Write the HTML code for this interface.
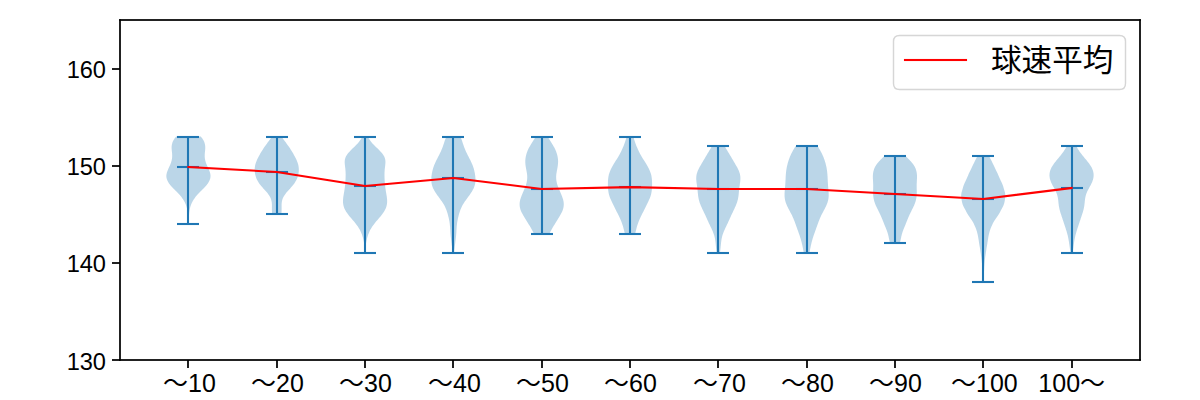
<!DOCTYPE html>
<html lang="ja">
<head>
<meta charset="utf-8">
<title>球速平均</title>
<style>
html,body{margin:0;padding:0;background:#ffffff;font-family:"Liberation Sans",sans-serif;}
body{width:1200px;height:400px;overflow:hidden;}
svg{display:block;}
</style>
</head>
<body>
<svg width="1200" height="400" viewBox="0 0 1200 400" role="img" aria-label="球速平均 バイオリンプロット" style="display:block">
<title>球速平均</title>
<desc>投球数区分（〜10 から 100〜）ごとの球速分布のバイオリンプロットと球速平均の折れ線</desc>
<rect x="0" y="0" width="1200" height="400" fill="#ffffff"/>
<g fill="#1f77b4" fill-opacity="0.3">
<path d="M188.75 224 L188.14 224 L188.12 223.12 L188.1 222.23 L188.09 221.35 L188.07 220.47 L188.05 219.58 L188.02 218.7 L187.99 217.82 L187.96 216.94 L187.91 216.05 L187.86 215.17 L187.8 214.29 L187.72 213.4 L187.63 212.52 L187.52 211.64 L187.39 210.75 L187.24 209.87 L187.07 208.99 L186.88 208.1 L186.65 207.22 L186.4 206.34 L186.11 205.45 L185.79 204.57 L185.43 203.69 L185.04 202.81 L184.6 201.92 L184.12 201.04 L183.6 200.16 L183.04 199.27 L182.44 198.39 L181.79 197.51 L181.1 196.62 L180.37 195.74 L179.6 194.86 L178.8 193.97 L177.97 193.09 L177.11 192.21 L176.24 191.32 L175.35 190.44 L174.47 189.56 L173.59 188.68 L172.74 187.79 L171.91 186.91 L171.11 186.03 L170.36 185.14 L169.67 184.26 L169.02 183.38 L168.44 182.49 L167.93 181.61 L167.48 180.73 L167.1 179.84 L166.8 178.96 L166.58 178.08 L166.43 177.19 L166.36 176.31 L166.37 175.43 L166.46 174.55 L166.61 173.66 L166.83 172.78 L167.11 171.9 L167.43 171.01 L167.78 170.13 L168.16 169.25 L168.56 168.36 L168.97 167.48 L169.37 166.6 L169.77 165.71 L170.15 164.83 L170.51 163.95 L170.84 163.06 L171.14 162.18 L171.41 161.3 L171.64 160.42 L171.82 159.53 L171.97 158.65 L172.08 157.77 L172.15 156.88 L172.17 156 L172.17 155.12 L172.13 154.23 L172.07 153.35 L171.99 152.47 L171.9 151.58 L171.81 150.7 L171.73 149.82 L171.66 148.94 L171.62 148.05 L171.62 147.17 L171.66 146.29 L171.75 145.4 L171.9 144.52 L172.11 143.64 L172.37 142.75 L172.71 141.87 L173.11 140.99 L173.57 140.1 L174.11 139.22 L174.71 138.34 L175.37 137.45 L176.09 136.57 L200.79 136.57 L200.79 136.57 L201.51 137.45 L202.18 138.34 L202.78 139.22 L203.31 140.1 L203.78 140.99 L204.18 141.87 L204.51 142.75 L204.78 143.64 L204.98 144.52 L205.13 145.4 L205.22 146.29 L205.26 147.17 L205.26 148.05 L205.22 148.94 L205.16 149.82 L205.08 150.7 L204.99 151.58 L204.9 152.47 L204.82 153.35 L204.75 154.23 L204.72 155.12 L204.71 156 L204.74 156.88 L204.8 157.77 L204.91 158.65 L205.06 159.53 L205.25 160.42 L205.48 161.3 L205.74 162.18 L206.04 163.06 L206.38 163.95 L206.73 164.83 L207.11 165.71 L207.51 166.6 L207.91 167.48 L208.32 168.36 L208.72 169.25 L209.1 170.13 L209.46 171.01 L209.78 171.9 L210.05 172.78 L210.27 173.66 L210.42 174.55 L210.51 175.43 L210.52 176.31 L210.45 177.19 L210.31 178.08 L210.08 178.96 L209.78 179.84 L209.4 180.73 L208.96 181.61 L208.44 182.49 L207.86 183.38 L207.22 184.26 L206.52 185.14 L205.77 186.03 L204.98 186.91 L204.15 187.79 L203.29 188.68 L202.42 189.56 L201.53 190.44 L200.65 191.32 L199.77 192.21 L198.91 193.09 L198.08 193.97 L197.28 194.86 L196.51 195.74 L195.78 196.62 L195.09 197.51 L194.45 198.39 L193.84 199.27 L193.28 200.16 L192.76 201.04 L192.28 201.92 L191.85 202.81 L191.45 203.69 L191.09 204.57 L190.77 205.45 L190.48 206.34 L190.23 207.22 L190.01 208.1 L189.81 208.99 L189.64 209.87 L189.49 210.75 L189.36 211.64 L189.26 212.52 L189.16 213.4 L189.09 214.29 L189.02 215.17 L188.97 216.05 L188.93 216.94 L188.89 217.82 L188.86 218.7 L188.84 219.58 L188.81 220.47 L188.8 221.35 L188.78 222.23 L188.76 223.12 L188.75 224Z"/>
<path d="M281.27 214.29 L272.24 214.29 L272.13 213.5 L272.05 212.72 L271.98 211.93 L271.94 211.15 L271.91 210.36 L271.89 209.58 L271.89 208.79 L271.89 208.01 L271.9 207.22 L271.91 206.44 L271.91 205.65 L271.9 204.87 L271.87 204.08 L271.83 203.3 L271.75 202.51 L271.64 201.73 L271.49 200.94 L271.3 200.16 L271.07 199.37 L270.79 198.59 L270.46 197.8 L270.08 197.02 L269.64 196.23 L269.16 195.45 L268.63 194.66 L268.06 193.88 L267.45 193.09 L266.8 192.31 L266.13 191.52 L265.44 190.74 L264.73 189.95 L264.02 189.17 L263.31 188.38 L262.6 187.6 L261.91 186.81 L261.24 186.03 L260.6 185.24 L259.98 184.46 L259.4 183.67 L258.85 182.89 L258.34 182.1 L257.87 181.32 L257.43 180.53 L257.03 179.75 L256.67 178.96 L256.34 178.18 L256.04 177.39 L255.77 176.61 L255.54 175.82 L255.33 175.04 L255.16 174.25 L255.01 173.47 L254.88 172.68 L254.79 171.9 L254.72 171.11 L254.68 170.33 L254.68 169.54 L254.7 168.76 L254.75 167.97 L254.83 167.19 L254.95 166.4 L255.09 165.62 L255.27 164.83 L255.48 164.05 L255.71 163.26 L255.98 162.48 L256.27 161.69 L256.58 160.91 L256.92 160.12 L257.27 159.34 L257.64 158.55 L258.03 157.77 L258.43 156.98 L258.84 156.2 L259.27 155.41 L259.7 154.63 L260.14 153.84 L260.6 153.06 L261.06 152.27 L261.53 151.49 L262.02 150.7 L262.51 149.92 L263.02 149.13 L263.53 148.35 L264.06 147.56 L264.6 146.78 L265.16 145.99 L265.72 145.21 L266.29 144.42 L266.86 143.64 L267.44 142.85 L268.03 142.07 L268.6 141.28 L269.18 140.5 L269.74 139.71 L270.3 138.93 L270.83 138.14 L271.35 137.36 L271.85 136.57 L281.65 136.57 L281.65 136.57 L282.15 137.36 L282.67 138.14 L283.21 138.93 L283.76 139.71 L284.33 140.5 L284.9 141.28 L285.48 142.07 L286.06 142.85 L286.64 143.64 L287.22 144.42 L287.79 145.21 L288.35 145.99 L288.9 146.78 L289.44 147.56 L289.97 148.35 L290.49 149.13 L291 149.92 L291.49 150.7 L291.97 151.49 L292.45 152.27 L292.91 153.06 L293.36 153.84 L293.8 154.63 L294.24 155.41 L294.66 156.2 L295.07 156.98 L295.48 157.77 L295.86 158.55 L296.23 159.34 L296.59 160.12 L296.92 160.91 L297.24 161.69 L297.53 162.48 L297.79 163.26 L298.03 164.05 L298.24 164.83 L298.41 165.62 L298.56 166.4 L298.68 167.19 L298.76 167.97 L298.81 168.76 L298.83 169.54 L298.82 170.33 L298.78 171.11 L298.72 171.9 L298.62 172.68 L298.5 173.47 L298.35 174.25 L298.17 175.04 L297.97 175.82 L297.73 176.61 L297.47 177.39 L297.17 178.18 L296.84 178.96 L296.48 179.75 L296.08 180.53 L295.64 181.32 L295.17 182.1 L294.66 182.89 L294.11 183.67 L293.52 184.46 L292.91 185.24 L292.26 186.03 L291.59 186.81 L290.9 187.6 L290.2 188.38 L289.49 189.17 L288.77 189.95 L288.07 190.74 L287.38 191.52 L286.7 192.31 L286.06 193.09 L285.45 193.88 L284.88 194.66 L284.35 195.45 L283.86 196.23 L283.43 197.02 L283.05 197.8 L282.72 198.59 L282.44 199.37 L282.2 200.16 L282.01 200.94 L281.87 201.73 L281.76 202.51 L281.68 203.3 L281.63 204.08 L281.61 204.87 L281.6 205.65 L281.6 206.44 L281.6 207.22 L281.61 208.01 L281.62 208.79 L281.61 209.58 L281.6 210.36 L281.57 211.15 L281.52 211.93 L281.46 212.72 L281.37 213.5 L281.27 214.29Z"/>
<path d="M365.25 253.14 L364.88 253.14 L364.84 251.97 L364.78 250.79 L364.72 249.61 L364.64 248.43 L364.54 247.26 L364.43 246.08 L364.29 244.9 L364.14 243.72 L363.96 242.55 L363.75 241.37 L363.52 240.19 L363.25 239.01 L362.95 237.84 L362.62 236.66 L362.25 235.48 L361.84 234.3 L361.38 233.13 L360.87 231.95 L360.31 230.77 L359.7 229.59 L359.03 228.42 L358.3 227.24 L357.51 226.06 L356.67 224.88 L355.77 223.71 L354.83 222.53 L353.86 221.35 L352.86 220.17 L351.85 219 L350.84 217.82 L349.85 216.64 L348.88 215.46 L347.97 214.29 L347.1 213.11 L346.31 211.93 L345.59 210.75 L344.95 209.58 L344.41 208.4 L343.95 207.22 L343.59 206.04 L343.32 204.87 L343.13 203.69 L343.02 202.51 L342.99 201.33 L343.01 200.16 L343.09 198.98 L343.22 197.8 L343.37 196.62 L343.55 195.45 L343.75 194.27 L343.95 193.09 L344.14 191.91 L344.34 190.74 L344.52 189.56 L344.69 188.38 L344.85 187.2 L344.99 186.03 L345.11 184.85 L345.22 183.67 L345.32 182.49 L345.4 181.32 L345.48 180.14 L345.54 178.96 L345.59 177.78 L345.62 176.61 L345.64 175.43 L345.64 174.25 L345.62 173.07 L345.57 171.9 L345.5 170.72 L345.4 169.54 L345.28 168.36 L345.14 167.19 L345 166.01 L344.86 164.83 L344.76 163.65 L344.7 162.48 L344.72 161.3 L344.82 160.12 L345.05 158.94 L345.4 157.77 L345.89 156.59 L346.53 155.41 L347.3 154.23 L348.21 153.06 L349.23 151.88 L350.35 150.7 L351.53 149.52 L352.75 148.35 L353.97 147.17 L355.18 145.99 L356.35 144.81 L357.45 143.64 L358.49 142.46 L359.43 141.28 L360.28 140.1 L361.04 138.93 L361.71 137.75 L362.29 136.57 L367.84 136.57 L367.84 136.57 L368.42 137.75 L369.09 138.93 L369.85 140.1 L370.7 141.28 L371.64 142.46 L372.68 143.64 L373.78 144.81 L374.95 145.99 L376.16 147.17 L377.38 148.35 L378.6 149.52 L379.78 150.7 L380.9 151.88 L381.92 153.06 L382.83 154.23 L383.6 155.41 L384.24 156.59 L384.73 157.77 L385.08 158.94 L385.31 160.12 L385.41 161.3 L385.43 162.48 L385.37 163.65 L385.27 164.83 L385.13 166.01 L384.99 167.19 L384.85 168.36 L384.73 169.54 L384.63 170.72 L384.56 171.9 L384.51 173.07 L384.49 174.25 L384.49 175.43 L384.51 176.61 L384.54 177.78 L384.59 178.96 L384.65 180.14 L384.73 181.32 L384.81 182.49 L384.91 183.67 L385.02 184.85 L385.14 186.03 L385.28 187.2 L385.44 188.38 L385.61 189.56 L385.79 190.74 L385.99 191.91 L386.18 193.09 L386.38 194.27 L386.58 195.45 L386.76 196.62 L386.91 197.8 L387.04 198.98 L387.12 200.16 L387.14 201.33 L387.11 202.51 L387 203.69 L386.81 204.87 L386.54 206.04 L386.17 207.22 L385.72 208.4 L385.18 209.58 L384.54 210.75 L383.82 211.93 L383.03 213.11 L382.16 214.29 L381.25 215.46 L380.28 216.64 L379.29 217.82 L378.28 219 L377.27 220.17 L376.27 221.35 L375.3 222.53 L374.36 223.71 L373.46 224.88 L372.62 226.06 L371.83 227.24 L371.1 228.42 L370.43 229.59 L369.82 230.77 L369.26 231.95 L368.75 233.13 L368.29 234.3 L367.88 235.48 L367.51 236.66 L367.18 237.84 L366.88 239.01 L366.61 240.19 L366.38 241.37 L366.17 242.55 L365.99 243.72 L365.84 244.9 L365.7 246.08 L365.59 247.26 L365.49 248.43 L365.41 249.61 L365.35 250.79 L365.29 251.97 L365.25 253.14Z"/>
<path d="M454.04 253.14 L452.71 253.14 L452.6 251.97 L452.48 250.79 L452.35 249.61 L452.21 248.43 L452.07 247.26 L451.92 246.08 L451.77 244.9 L451.62 243.72 L451.46 242.55 L451.31 241.37 L451.17 240.19 L451.02 239.01 L450.89 237.84 L450.76 236.66 L450.65 235.48 L450.55 234.3 L450.46 233.13 L450.38 231.95 L450.31 230.77 L450.24 229.59 L450.17 228.42 L450.09 227.24 L449.99 226.06 L449.87 224.88 L449.74 223.71 L449.57 222.53 L449.39 221.35 L449.17 220.17 L448.94 219 L448.68 217.82 L448.4 216.64 L448.1 215.46 L447.78 214.29 L447.44 213.11 L447.07 211.93 L446.67 210.75 L446.23 209.58 L445.76 208.4 L445.23 207.22 L444.65 206.04 L444.01 204.87 L443.32 203.69 L442.57 202.51 L441.77 201.33 L440.93 200.16 L440.07 198.98 L439.2 197.8 L438.33 196.62 L437.47 195.45 L436.65 194.27 L435.85 193.09 L435.11 191.91 L434.4 190.74 L433.76 189.56 L433.18 188.38 L432.67 187.2 L432.24 186.03 L431.9 184.85 L431.64 183.67 L431.46 182.49 L431.35 181.32 L431.3 180.14 L431.3 178.96 L431.36 177.78 L431.45 176.61 L431.58 175.43 L431.75 174.25 L431.96 173.07 L432.19 171.9 L432.46 170.72 L432.76 169.54 L433.09 168.36 L433.46 167.19 L433.88 166.01 L434.33 164.83 L434.83 163.65 L435.36 162.48 L435.92 161.3 L436.5 160.12 L437.09 158.94 L437.69 157.77 L438.29 156.59 L438.89 155.41 L439.48 154.23 L440.05 153.06 L440.61 151.88 L441.15 150.7 L441.66 149.52 L442.14 148.35 L442.59 147.17 L443.01 145.99 L443.41 144.81 L443.8 143.64 L444.18 142.46 L444.57 141.28 L444.99 140.1 L445.44 138.93 L445.93 137.75 L446.47 136.57 L460.28 136.57 L460.28 136.57 L460.82 137.75 L461.32 138.93 L461.77 140.1 L462.18 141.28 L462.57 142.46 L462.96 143.64 L463.34 144.81 L463.75 145.99 L464.17 147.17 L464.62 148.35 L465.1 149.52 L465.6 150.7 L466.14 151.88 L466.7 153.06 L467.28 154.23 L467.87 155.41 L468.46 156.59 L469.06 157.77 L469.66 158.94 L470.26 160.12 L470.84 161.3 L471.4 162.48 L471.93 163.65 L472.42 164.83 L472.88 166.01 L473.29 167.19 L473.66 168.36 L474 169.54 L474.3 170.72 L474.56 171.9 L474.8 173.07 L475 174.25 L475.17 175.43 L475.3 176.61 L475.4 177.78 L475.45 178.96 L475.45 180.14 L475.41 181.32 L475.3 182.49 L475.11 183.67 L474.85 184.85 L474.51 186.03 L474.08 187.2 L473.57 188.38 L472.99 189.56 L472.35 190.74 L471.65 191.91 L470.9 193.09 L470.11 194.27 L469.28 195.45 L468.43 196.62 L467.55 197.8 L466.68 198.98 L465.82 200.16 L464.98 201.33 L464.19 202.51 L463.44 203.69 L462.74 204.87 L462.11 206.04 L461.53 207.22 L461 208.4 L460.52 209.58 L460.08 210.75 L459.68 211.93 L459.32 213.11 L458.97 214.29 L458.65 215.46 L458.36 216.64 L458.08 217.82 L457.82 219 L457.58 220.17 L457.37 221.35 L457.18 222.53 L457.02 223.71 L456.88 224.88 L456.76 226.06 L456.67 227.24 L456.58 228.42 L456.51 229.59 L456.44 230.77 L456.37 231.95 L456.29 233.13 L456.2 234.3 L456.1 235.48 L455.99 236.66 L455.86 237.84 L455.73 239.01 L455.59 240.19 L455.44 241.37 L455.29 242.55 L455.14 243.72 L454.98 244.9 L454.83 246.08 L454.69 247.26 L454.54 248.43 L454.4 249.61 L454.27 250.79 L454.15 251.97 L454.04 253.14Z"/>
<path d="M549.39 233.71 L533.99 233.71 L533.48 232.73 L532.96 231.75 L532.44 230.77 L531.9 229.79 L531.36 228.81 L530.81 227.83 L530.24 226.85 L529.67 225.86 L529.09 224.88 L528.49 223.9 L527.89 222.92 L527.28 221.94 L526.67 220.96 L526.05 219.98 L525.43 219 L524.82 218.01 L524.22 217.03 L523.63 216.05 L523.06 215.07 L522.51 214.09 L522 213.11 L521.52 212.13 L521.09 211.15 L520.7 210.16 L520.37 209.18 L520.09 208.2 L519.88 207.22 L519.73 206.24 L519.64 205.26 L519.61 204.28 L519.64 203.3 L519.74 202.31 L519.89 201.33 L520.09 200.35 L520.34 199.37 L520.63 198.39 L520.95 197.41 L521.31 196.43 L521.69 195.45 L522.09 194.46 L522.51 193.48 L522.93 192.5 L523.36 191.52 L523.78 190.54 L524.2 189.56 L524.6 188.58 L524.99 187.6 L525.36 186.61 L525.71 185.63 L526.03 184.65 L526.31 183.67 L526.57 182.69 L526.78 181.71 L526.95 180.73 L527.08 179.75 L527.17 178.76 L527.22 177.78 L527.22 176.8 L527.18 175.82 L527.1 174.84 L526.99 173.86 L526.86 172.88 L526.7 171.9 L526.52 170.91 L526.34 169.93 L526.15 168.95 L525.97 167.97 L525.8 166.99 L525.64 166.01 L525.51 165.03 L525.41 164.05 L525.34 163.06 L525.3 162.08 L525.3 161.1 L525.33 160.12 L525.41 159.14 L525.52 158.16 L525.67 157.18 L525.86 156.2 L526.09 155.22 L526.36 154.23 L526.66 153.25 L527 152.27 L527.37 151.29 L527.78 150.31 L528.22 149.33 L528.69 148.35 L529.2 147.37 L529.73 146.38 L530.29 145.4 L530.87 144.42 L531.47 143.44 L532.09 142.46 L532.72 141.48 L533.35 140.5 L533.98 139.52 L534.61 138.53 L535.22 137.55 L535.82 136.57 L547.55 136.57 L547.55 136.57 L548.15 137.55 L548.77 138.53 L549.4 139.52 L550.03 140.5 L550.66 141.48 L551.29 142.46 L551.9 143.44 L552.5 144.42 L553.09 145.4 L553.65 146.38 L554.18 147.37 L554.68 148.35 L555.16 149.33 L555.6 150.31 L556.01 151.29 L556.38 152.27 L556.72 153.25 L557.02 154.23 L557.28 155.22 L557.51 156.2 L557.7 157.18 L557.86 158.16 L557.97 159.14 L558.04 160.12 L558.08 161.1 L558.08 162.08 L558.04 163.06 L557.97 164.05 L557.86 165.03 L557.73 166.01 L557.58 166.99 L557.41 167.97 L557.23 168.95 L557.04 169.93 L556.85 170.91 L556.68 171.9 L556.52 172.88 L556.38 173.86 L556.27 174.84 L556.2 175.82 L556.16 176.8 L556.16 177.78 L556.21 178.76 L556.29 179.75 L556.42 180.73 L556.6 181.71 L556.81 182.69 L557.06 183.67 L557.35 184.65 L557.67 185.63 L558.01 186.61 L558.38 187.6 L558.77 188.58 L559.18 189.56 L559.6 190.54 L560.02 191.52 L560.45 192.5 L560.87 193.48 L561.28 194.46 L561.68 195.45 L562.07 196.43 L562.42 197.41 L562.75 198.39 L563.04 199.37 L563.29 200.35 L563.49 201.33 L563.64 202.31 L563.73 203.3 L563.77 204.28 L563.74 205.26 L563.65 206.24 L563.5 207.22 L563.28 208.2 L563.01 209.18 L562.68 210.16 L562.29 211.15 L561.86 212.13 L561.38 213.11 L560.87 214.09 L560.32 215.07 L559.75 216.05 L559.16 217.03 L558.56 218.01 L557.94 219 L557.32 219.98 L556.71 220.96 L556.09 221.94 L555.48 222.92 L554.88 223.9 L554.29 224.88 L553.71 225.86 L553.13 226.85 L552.57 227.83 L552.02 228.81 L551.48 229.79 L550.94 230.77 L550.41 231.75 L549.9 232.73 L549.39 233.71Z"/>
<path d="M635.11 233.71 L624.89 233.71 L624.62 232.73 L624.36 231.75 L624.1 230.77 L623.86 229.79 L623.61 228.81 L623.36 227.83 L623.1 226.85 L622.83 225.86 L622.54 224.88 L622.22 223.9 L621.88 222.92 L621.52 221.94 L621.13 220.96 L620.71 219.98 L620.28 219 L619.83 218.01 L619.36 217.03 L618.89 216.05 L618.4 215.07 L617.92 214.09 L617.43 213.11 L616.94 212.13 L616.45 211.15 L615.96 210.16 L615.47 209.18 L614.98 208.2 L614.49 207.22 L614 206.24 L613.51 205.26 L613.02 204.28 L612.53 203.3 L612.05 202.31 L611.58 201.33 L611.13 200.35 L610.7 199.37 L610.29 198.39 L609.91 197.41 L609.56 196.43 L609.25 195.45 L608.98 194.46 L608.74 193.48 L608.54 192.5 L608.38 191.52 L608.24 190.54 L608.14 189.56 L608.06 188.58 L608 187.6 L607.96 186.61 L607.93 185.63 L607.92 184.65 L607.92 183.67 L607.94 182.69 L607.96 181.71 L608.01 180.73 L608.07 179.75 L608.16 178.76 L608.28 177.78 L608.43 176.8 L608.61 175.82 L608.83 174.84 L609.09 173.86 L609.39 172.88 L609.74 171.9 L610.12 170.91 L610.54 169.93 L611 168.95 L611.5 167.97 L612.02 166.99 L612.57 166.01 L613.14 165.03 L613.73 164.05 L614.34 163.06 L614.95 162.08 L615.56 161.1 L616.18 160.12 L616.79 159.14 L617.39 158.16 L617.99 157.18 L618.57 156.2 L619.13 155.22 L619.68 154.23 L620.21 153.25 L620.72 152.27 L621.21 151.29 L621.68 150.31 L622.14 149.33 L622.57 148.35 L622.99 147.37 L623.39 146.38 L623.77 145.4 L624.14 144.42 L624.5 143.44 L624.85 142.46 L625.19 141.48 L625.51 140.5 L625.83 139.52 L626.14 138.53 L626.44 137.55 L626.73 136.57 L633.27 136.57 L633.27 136.57 L633.56 137.55 L633.86 138.53 L634.17 139.52 L634.49 140.5 L634.81 141.48 L635.15 142.46 L635.5 143.44 L635.86 144.42 L636.23 145.4 L636.61 146.38 L637.01 147.37 L637.43 148.35 L637.86 149.33 L638.32 150.31 L638.79 151.29 L639.28 152.27 L639.79 153.25 L640.32 154.23 L640.87 155.22 L641.43 156.2 L642.01 157.18 L642.61 158.16 L643.21 159.14 L643.82 160.12 L644.44 161.1 L645.05 162.08 L645.66 163.06 L646.27 164.05 L646.86 165.03 L647.43 166.01 L647.98 166.99 L648.5 167.97 L649 168.95 L649.46 169.93 L649.88 170.91 L650.26 171.9 L650.61 172.88 L650.91 173.86 L651.17 174.84 L651.39 175.82 L651.57 176.8 L651.72 177.78 L651.84 178.76 L651.93 179.75 L651.99 180.73 L652.04 181.71 L652.06 182.69 L652.08 183.67 L652.08 184.65 L652.07 185.63 L652.04 186.61 L652 187.6 L651.94 188.58 L651.86 189.56 L651.76 190.54 L651.62 191.52 L651.46 192.5 L651.26 193.48 L651.02 194.46 L650.75 195.45 L650.44 196.43 L650.09 197.41 L649.71 198.39 L649.3 199.37 L648.87 200.35 L648.42 201.33 L647.95 202.31 L647.47 203.3 L646.98 204.28 L646.49 205.26 L646 206.24 L645.51 207.22 L645.02 208.2 L644.53 209.18 L644.04 210.16 L643.55 211.15 L643.06 212.13 L642.57 213.11 L642.08 214.09 L641.6 215.07 L641.11 216.05 L640.64 217.03 L640.17 218.01 L639.72 219 L639.29 219.98 L638.87 220.96 L638.48 221.94 L638.12 222.92 L637.78 223.9 L637.46 224.88 L637.17 225.86 L636.9 226.85 L636.64 227.83 L636.39 228.81 L636.14 229.79 L635.9 230.77 L635.64 231.75 L635.38 232.73 L635.11 233.71Z"/>
<path d="M719.92 253.14 L716.7 253.14 L716.57 252.06 L716.44 250.98 L716.31 249.9 L716.19 248.83 L716.07 247.75 L715.96 246.67 L715.85 245.59 L715.74 244.51 L715.63 243.43 L715.51 242.35 L715.37 241.27 L715.22 240.19 L715.04 239.11 L714.83 238.03 L714.59 236.95 L714.31 235.87 L714 234.79 L713.64 233.71 L713.25 232.63 L712.82 231.56 L712.36 230.48 L711.88 229.4 L711.38 228.32 L710.87 227.24 L710.35 226.16 L709.83 225.08 L709.32 224 L708.81 222.92 L708.3 221.84 L707.81 220.76 L707.32 219.68 L706.83 218.6 L706.35 217.52 L705.86 216.44 L705.37 215.37 L704.87 214.29 L704.37 213.21 L703.86 212.13 L703.34 211.05 L702.83 209.97 L702.31 208.89 L701.81 207.81 L701.32 206.73 L700.85 205.65 L700.4 204.57 L699.99 203.49 L699.61 202.41 L699.28 201.33 L698.98 200.25 L698.72 199.17 L698.49 198.1 L698.31 197.02 L698.15 195.94 L698.01 194.86 L697.9 193.78 L697.79 192.7 L697.69 191.62 L697.59 190.54 L697.48 189.46 L697.36 188.38 L697.22 187.3 L697.08 186.22 L696.93 185.14 L696.77 184.06 L696.62 182.98 L696.48 181.9 L696.36 180.83 L696.27 179.75 L696.23 178.67 L696.25 177.59 L696.32 176.51 L696.45 175.43 L696.66 174.35 L696.94 173.27 L697.28 172.19 L697.68 171.11 L698.15 170.03 L698.66 168.95 L699.21 167.87 L699.79 166.79 L700.39 165.71 L701.01 164.63 L701.64 163.56 L702.28 162.48 L702.91 161.4 L703.55 160.32 L704.19 159.24 L704.83 158.16 L705.47 157.08 L706.11 156 L706.76 154.92 L707.4 153.84 L708.06 152.76 L708.71 151.68 L709.36 150.6 L710.01 149.52 L710.66 148.44 L711.3 147.37 L711.92 146.29 L724.7 146.29 L724.7 146.29 L725.33 147.37 L725.96 148.44 L726.61 149.52 L727.26 150.6 L727.91 151.68 L728.57 152.76 L729.22 153.84 L729.87 154.92 L730.51 156 L731.15 157.08 L731.79 158.16 L732.43 159.24 L733.07 160.32 L733.71 161.4 L734.35 162.48 L734.98 163.56 L735.61 164.63 L736.23 165.71 L736.84 166.79 L737.42 167.87 L737.97 168.95 L738.48 170.03 L738.94 171.11 L739.34 172.19 L739.69 173.27 L739.96 174.35 L740.17 175.43 L740.31 176.51 L740.38 177.59 L740.39 178.67 L740.35 179.75 L740.26 180.83 L740.15 181.9 L740.01 182.98 L739.85 184.06 L739.7 185.14 L739.54 186.22 L739.4 187.3 L739.27 188.38 L739.14 189.46 L739.03 190.54 L738.93 191.62 L738.83 192.7 L738.72 193.78 L738.61 194.86 L738.48 195.94 L738.32 197.02 L738.13 198.1 L737.91 199.17 L737.65 200.25 L737.35 201.33 L737.01 202.41 L736.63 203.49 L736.22 204.57 L735.77 205.65 L735.3 206.73 L734.81 207.81 L734.31 208.89 L733.8 209.97 L733.28 211.05 L732.77 212.13 L732.26 213.21 L731.75 214.29 L731.25 215.37 L730.76 216.44 L730.28 217.52 L729.79 218.6 L729.31 219.68 L728.82 220.76 L728.32 221.84 L727.82 222.92 L727.31 224 L726.79 225.08 L726.27 226.16 L725.75 227.24 L725.24 228.32 L724.74 229.4 L724.26 230.48 L723.8 231.56 L723.37 232.63 L722.98 233.71 L722.63 234.79 L722.31 235.87 L722.03 236.95 L721.79 238.03 L721.58 239.11 L721.4 240.19 L721.25 241.27 L721.11 242.35 L720.99 243.43 L720.88 244.51 L720.77 245.59 L720.66 246.67 L720.55 247.75 L720.43 248.83 L720.31 249.9 L720.19 250.98 L720.06 252.06 L719.92 253.14Z"/>
<path d="M809.42 253.14 L803.82 253.14 L803.63 252.06 L803.43 250.98 L803.24 249.9 L803.03 248.83 L802.82 247.75 L802.6 246.67 L802.37 245.59 L802.13 244.51 L801.88 243.43 L801.61 242.35 L801.33 241.27 L801.04 240.19 L800.73 239.11 L800.4 238.03 L800.06 236.95 L799.71 235.87 L799.35 234.79 L798.98 233.71 L798.6 232.63 L798.21 231.56 L797.83 230.48 L797.44 229.4 L797.05 228.32 L796.67 227.24 L796.28 226.16 L795.9 225.08 L795.51 224 L795.11 222.92 L794.71 221.84 L794.3 220.76 L793.87 219.68 L793.42 218.6 L792.95 217.52 L792.47 216.44 L791.96 215.37 L791.43 214.29 L790.88 213.21 L790.31 212.13 L789.74 211.05 L789.17 209.97 L788.6 208.89 L788.04 207.81 L787.5 206.73 L786.99 205.65 L786.52 204.57 L786.09 203.49 L785.71 202.41 L785.39 201.33 L785.11 200.25 L784.9 199.17 L784.74 198.1 L784.63 197.02 L784.57 195.94 L784.55 194.86 L784.56 193.78 L784.61 192.7 L784.68 191.62 L784.76 190.54 L784.85 189.46 L784.95 188.38 L785.05 187.3 L785.14 186.22 L785.22 185.14 L785.3 184.06 L785.37 182.98 L785.43 181.9 L785.48 180.83 L785.54 179.75 L785.59 178.67 L785.64 177.59 L785.7 176.51 L785.77 175.43 L785.84 174.35 L785.94 173.27 L786.05 172.19 L786.18 171.11 L786.32 170.03 L786.49 168.95 L786.68 167.87 L786.89 166.79 L787.12 165.71 L787.38 164.63 L787.65 163.56 L787.95 162.48 L788.27 161.4 L788.62 160.32 L788.99 159.24 L789.39 158.16 L789.81 157.08 L790.27 156 L790.75 154.92 L791.26 153.84 L791.8 152.76 L792.36 151.68 L792.96 150.6 L793.57 149.52 L794.21 148.44 L794.87 147.37 L795.55 146.29 L817.7 146.29 L817.7 146.29 L818.37 147.37 L819.03 148.44 L819.67 149.52 L820.29 150.6 L820.88 151.68 L821.45 152.76 L821.99 153.84 L822.5 154.92 L822.98 156 L823.43 157.08 L823.86 158.16 L824.26 159.24 L824.63 160.32 L824.97 161.4 L825.3 162.48 L825.6 163.56 L825.87 164.63 L826.13 165.71 L826.36 166.79 L826.57 167.87 L826.76 168.95 L826.92 170.03 L827.07 171.11 L827.2 172.19 L827.31 173.27 L827.4 174.35 L827.48 175.43 L827.55 176.51 L827.61 177.59 L827.66 178.67 L827.71 179.75 L827.76 180.83 L827.82 181.9 L827.88 182.98 L827.95 184.06 L828.02 185.14 L828.11 186.22 L828.2 187.3 L828.3 188.38 L828.39 189.46 L828.49 190.54 L828.57 191.62 L828.64 192.7 L828.68 193.78 L828.7 194.86 L828.68 195.94 L828.62 197.02 L828.51 198.1 L828.35 199.17 L828.13 200.25 L827.86 201.33 L827.53 202.41 L827.15 203.49 L826.73 204.57 L826.25 205.65 L825.75 206.73 L825.21 207.81 L824.65 208.89 L824.08 209.97 L823.51 211.05 L822.93 212.13 L822.37 213.21 L821.82 214.29 L821.29 215.37 L820.78 216.44 L820.29 217.52 L819.83 218.6 L819.38 219.68 L818.95 220.76 L818.54 221.84 L818.13 222.92 L817.74 224 L817.35 225.08 L816.96 226.16 L816.58 227.24 L816.19 228.32 L815.81 229.4 L815.42 230.48 L815.03 231.56 L814.65 232.63 L814.27 233.71 L813.9 234.79 L813.54 235.87 L813.18 236.95 L812.85 238.03 L812.52 239.11 L812.21 240.19 L811.91 241.27 L811.63 242.35 L811.37 243.43 L811.12 244.51 L810.88 245.59 L810.65 246.67 L810.43 247.75 L810.22 248.83 L810.01 249.9 L809.81 250.98 L809.62 252.06 L809.42 253.14Z"/>
<path d="M899.65 243.43 L890.22 243.43 L889.96 242.55 L889.72 241.66 L889.49 240.78 L889.29 239.9 L889.09 239.01 L888.9 238.13 L888.71 237.25 L888.51 236.36 L888.3 235.48 L888.08 234.6 L887.84 233.71 L887.57 232.83 L887.29 231.95 L886.99 231.06 L886.67 230.18 L886.33 229.3 L885.98 228.42 L885.62 227.53 L885.25 226.65 L884.89 225.77 L884.52 224.88 L884.16 224 L883.81 223.12 L883.45 222.23 L883.1 221.35 L882.75 220.47 L882.4 219.58 L882.04 218.7 L881.68 217.82 L881.3 216.94 L880.92 216.05 L880.53 215.17 L880.12 214.29 L879.7 213.4 L879.27 212.52 L878.84 211.64 L878.39 210.75 L877.94 209.87 L877.49 208.99 L877.05 208.1 L876.61 207.22 L876.2 206.34 L875.8 205.45 L875.43 204.57 L875.09 203.69 L874.77 202.81 L874.48 201.92 L874.22 201.04 L873.99 200.16 L873.78 199.27 L873.6 198.39 L873.45 197.51 L873.32 196.62 L873.23 195.74 L873.16 194.86 L873.11 193.97 L873.09 193.09 L873.09 192.21 L873.1 191.32 L873.12 190.44 L873.14 189.56 L873.16 188.68 L873.18 187.79 L873.19 186.91 L873.19 186.03 L873.19 185.14 L873.17 184.26 L873.14 183.38 L873.1 182.49 L873.06 181.61 L873.01 180.73 L872.96 179.84 L872.91 178.96 L872.88 178.08 L872.86 177.19 L872.86 176.31 L872.88 175.43 L872.94 174.55 L873.02 173.66 L873.15 172.78 L873.31 171.9 L873.51 171.01 L873.75 170.13 L874.04 169.25 L874.39 168.36 L874.78 167.48 L875.23 166.6 L875.74 165.71 L876.31 164.83 L876.94 163.95 L877.62 163.06 L878.36 162.18 L879.13 161.3 L879.94 160.42 L880.78 159.53 L881.64 158.65 L882.52 157.77 L883.41 156.88 L884.3 156 L905.57 156 L905.57 156 L906.46 156.88 L907.35 157.77 L908.23 158.65 L909.09 159.53 L909.93 160.42 L910.74 161.3 L911.51 162.18 L912.25 163.06 L912.93 163.95 L913.56 164.83 L914.13 165.71 L914.64 166.6 L915.09 167.48 L915.48 168.36 L915.83 169.25 L916.12 170.13 L916.36 171.01 L916.56 171.9 L916.72 172.78 L916.85 173.66 L916.93 174.55 L916.99 175.43 L917.01 176.31 L917.01 177.19 L916.99 178.08 L916.96 178.96 L916.91 179.84 L916.86 180.73 L916.81 181.61 L916.77 182.49 L916.73 183.38 L916.7 184.26 L916.68 185.14 L916.68 186.03 L916.68 186.91 L916.69 187.79 L916.71 188.68 L916.73 189.56 L916.75 190.44 L916.77 191.32 L916.78 192.21 L916.78 193.09 L916.76 193.97 L916.71 194.86 L916.64 195.74 L916.55 196.62 L916.42 197.51 L916.27 198.39 L916.09 199.27 L915.88 200.16 L915.65 201.04 L915.39 201.92 L915.1 202.81 L914.78 203.69 L914.44 204.57 L914.07 205.45 L913.67 206.34 L913.26 207.22 L912.82 208.1 L912.38 208.99 L911.93 209.87 L911.48 210.75 L911.04 211.64 L910.6 212.52 L910.17 213.4 L909.75 214.29 L909.34 215.17 L908.95 216.05 L908.57 216.94 L908.19 217.82 L907.83 218.7 L907.47 219.58 L907.12 220.47 L906.77 221.35 L906.42 222.23 L906.06 223.12 L905.71 224 L905.35 224.88 L904.98 225.77 L904.62 226.65 L904.25 227.53 L903.89 228.42 L903.54 229.3 L903.2 230.18 L902.88 231.06 L902.58 231.95 L902.3 232.83 L902.04 233.71 L901.79 234.6 L901.57 235.48 L901.36 236.36 L901.16 237.25 L900.97 238.13 L900.78 239.01 L900.58 239.9 L900.38 240.78 L900.15 241.66 L899.91 242.55 L899.65 243.43Z"/>
<path d="M983.47 282.29 L983.02 282.29 L982.97 281.01 L982.91 279.73 L982.85 278.46 L982.78 277.18 L982.7 275.91 L982.63 274.63 L982.56 273.36 L982.5 272.08 L982.44 270.81 L982.37 269.53 L982.31 268.25 L982.24 266.98 L982.16 265.7 L982.07 264.43 L981.97 263.15 L981.85 261.88 L981.72 260.6 L981.57 259.32 L981.41 258.05 L981.23 256.77 L981.05 255.5 L980.87 254.22 L980.68 252.95 L980.49 251.67 L980.3 250.4 L980.09 249.12 L979.88 247.84 L979.66 246.57 L979.45 245.29 L979.25 244.02 L979.05 242.74 L978.87 241.47 L978.68 240.19 L978.48 238.91 L978.26 237.64 L978.01 236.36 L977.75 235.09 L977.47 233.81 L977.16 232.54 L976.81 231.26 L976.42 229.99 L975.98 228.71 L975.48 227.43 L974.94 226.16 L974.35 224.88 L973.72 223.61 L973.03 222.33 L972.28 221.06 L971.47 219.78 L970.6 218.51 L969.72 217.23 L968.85 215.95 L968.03 214.68 L967.27 213.4 L966.55 212.13 L965.84 210.85 L965.14 209.58 L964.44 208.3 L963.77 207.02 L963.18 205.75 L962.68 204.47 L962.3 203.2 L962 201.92 L961.75 200.65 L961.53 199.37 L961.34 198.1 L961.21 196.82 L961.17 195.54 L961.25 194.27 L961.46 192.99 L961.76 191.72 L962.12 190.44 L962.49 189.17 L962.86 187.89 L963.26 186.61 L963.69 185.34 L964.19 184.06 L964.75 182.79 L965.34 181.51 L965.93 180.24 L966.5 178.96 L967.06 177.69 L967.6 176.41 L968.16 175.13 L968.75 173.86 L969.37 172.58 L970 171.31 L970.61 170.03 L971.2 168.76 L971.78 167.48 L972.35 166.2 L972.95 164.93 L973.58 163.65 L974.23 162.38 L974.89 161.1 L975.55 159.83 L976.2 158.55 L976.85 157.28 L977.51 156 L988.98 156 L988.98 156 L989.64 157.28 L990.29 158.55 L990.94 159.83 L991.6 161.1 L992.27 162.38 L992.92 163.65 L993.54 164.93 L994.14 166.2 L994.72 167.48 L995.29 168.76 L995.88 170.03 L996.5 171.31 L997.12 172.58 L997.74 173.86 L998.33 175.13 L998.89 176.41 L999.44 177.69 L999.99 178.96 L1000.56 180.24 L1001.16 181.51 L1001.75 182.79 L1002.3 184.06 L1002.8 185.34 L1003.24 186.61 L1003.63 187.89 L1004.01 189.17 L1004.38 190.44 L1004.73 191.72 L1005.04 192.99 L1005.24 194.27 L1005.32 195.54 L1005.28 196.82 L1005.15 198.1 L1004.96 199.37 L1004.74 200.65 L1004.5 201.92 L1004.2 203.2 L1003.81 204.47 L1003.32 205.75 L1002.72 207.02 L1002.05 208.3 L1001.36 209.58 L1000.65 210.85 L999.95 212.13 L999.22 213.4 L998.46 214.68 L997.64 215.95 L996.77 217.23 L995.89 218.51 L995.03 219.78 L994.21 221.06 L993.46 222.33 L992.78 223.61 L992.14 224.88 L991.56 226.16 L991.01 227.43 L990.52 228.71 L990.07 229.99 L989.68 231.26 L989.34 232.54 L989.02 233.81 L988.74 235.09 L988.48 236.36 L988.24 237.64 L988.02 238.91 L987.82 240.19 L987.63 241.47 L987.44 242.74 L987.25 244.02 L987.04 245.29 L986.83 246.57 L986.61 247.84 L986.4 249.12 L986.2 250.4 L986 251.67 L985.81 252.95 L985.63 254.22 L985.44 255.5 L985.26 256.77 L985.08 258.05 L984.92 259.32 L984.77 260.6 L984.64 261.88 L984.53 263.15 L984.43 264.43 L984.34 265.7 L984.26 266.98 L984.19 268.25 L984.12 269.53 L984.06 270.81 L983.99 272.08 L983.93 273.36 L983.86 274.63 L983.79 275.91 L983.72 277.18 L983.65 278.46 L983.58 279.73 L983.52 281.01 L983.47 282.29Z"/>
<path d="M1072.6 253.14 L1070.51 253.14 L1070.38 252.06 L1070.24 250.98 L1070.09 249.9 L1069.94 248.83 L1069.79 247.75 L1069.64 246.67 L1069.49 245.59 L1069.33 244.51 L1069.17 243.43 L1069.01 242.35 L1068.84 241.27 L1068.66 240.19 L1068.46 239.11 L1068.25 238.03 L1068.03 236.95 L1067.79 235.87 L1067.53 234.79 L1067.25 233.71 L1066.95 232.63 L1066.64 231.56 L1066.31 230.48 L1065.97 229.4 L1065.63 228.32 L1065.27 227.24 L1064.92 226.16 L1064.56 225.08 L1064.2 224 L1063.84 222.92 L1063.48 221.84 L1063.12 220.76 L1062.76 219.68 L1062.4 218.6 L1062.04 217.52 L1061.68 216.44 L1061.33 215.37 L1060.97 214.29 L1060.63 213.21 L1060.3 212.13 L1059.99 211.05 L1059.7 209.97 L1059.43 208.89 L1059.2 207.81 L1059 206.73 L1058.82 205.65 L1058.67 204.57 L1058.55 203.49 L1058.43 202.41 L1058.32 201.33 L1058.21 200.25 L1058.08 199.17 L1057.91 198.1 L1057.71 197.02 L1057.46 195.94 L1057.16 194.86 L1056.8 193.78 L1056.38 192.7 L1055.92 191.62 L1055.4 190.54 L1054.85 189.46 L1054.27 188.38 L1053.67 187.3 L1053.08 186.22 L1052.5 185.14 L1051.94 184.06 L1051.42 182.98 L1050.95 181.9 L1050.53 180.83 L1050.17 179.75 L1049.89 178.67 L1049.68 177.59 L1049.54 176.51 L1049.48 175.43 L1049.5 174.35 L1049.61 173.27 L1049.79 172.19 L1050.05 171.11 L1050.4 170.03 L1050.83 168.95 L1051.33 167.87 L1051.9 166.79 L1052.54 165.71 L1053.25 164.63 L1054.01 163.56 L1054.82 162.48 L1055.67 161.4 L1056.54 160.32 L1057.43 159.24 L1058.34 158.16 L1059.24 157.08 L1060.13 156 L1061 154.92 L1061.85 153.84 L1062.66 152.76 L1063.44 151.68 L1064.17 150.6 L1064.87 149.52 L1065.52 148.44 L1066.13 147.37 L1066.69 146.29 L1076.42 146.29 L1076.42 146.29 L1076.99 147.37 L1077.6 148.44 L1078.25 149.52 L1078.94 150.6 L1079.68 151.68 L1080.46 152.76 L1081.27 153.84 L1082.12 154.92 L1082.99 156 L1083.88 157.08 L1084.78 158.16 L1085.68 159.24 L1086.58 160.32 L1087.45 161.4 L1088.3 162.48 L1089.11 163.56 L1089.87 164.63 L1090.57 165.71 L1091.22 166.79 L1091.79 167.87 L1092.29 168.95 L1092.72 170.03 L1093.06 171.11 L1093.33 172.19 L1093.51 173.27 L1093.61 174.35 L1093.64 175.43 L1093.58 176.51 L1093.44 177.59 L1093.23 178.67 L1092.94 179.75 L1092.59 180.83 L1092.17 181.9 L1091.7 182.98 L1091.18 184.06 L1090.62 185.14 L1090.04 186.22 L1089.44 187.3 L1088.85 188.38 L1088.27 189.46 L1087.72 190.54 L1087.2 191.62 L1086.73 192.7 L1086.32 193.78 L1085.96 194.86 L1085.65 195.94 L1085.41 197.02 L1085.2 198.1 L1085.04 199.17 L1084.91 200.25 L1084.79 201.33 L1084.68 202.41 L1084.57 203.49 L1084.44 204.57 L1084.3 205.65 L1084.12 206.73 L1083.92 207.81 L1083.68 208.89 L1083.42 209.97 L1083.13 211.05 L1082.82 212.13 L1082.49 213.21 L1082.14 214.29 L1081.79 215.37 L1081.43 216.44 L1081.08 217.52 L1080.72 218.6 L1080.36 219.68 L1080 220.76 L1079.64 221.84 L1079.28 222.92 L1078.92 224 L1078.56 225.08 L1078.2 226.16 L1077.84 227.24 L1077.49 228.32 L1077.14 229.4 L1076.81 230.48 L1076.48 231.56 L1076.17 232.63 L1075.87 233.71 L1075.59 234.79 L1075.33 235.87 L1075.09 236.95 L1074.86 238.03 L1074.65 239.11 L1074.46 240.19 L1074.28 241.27 L1074.11 242.35 L1073.94 243.43 L1073.78 244.51 L1073.63 245.59 L1073.47 246.67 L1073.32 247.75 L1073.17 248.83 L1073.03 249.9 L1072.88 250.98 L1072.74 252.06 L1072.6 253.14Z"/>
</g>
<g stroke="#1f77b4" stroke-width="2.0833" fill="none" stroke-linecap="butt">
<path d="M188 224L188 137M277 214L277 137M365 253L365 137M453 253L453 137M542 234L542 137M630 234L630 137M718 253L718 146M807 253L807 146M895 243L895 156M983 282L983 156M1072 253L1072 146"/>
</g>
<path d="M177 165H199V169H177ZM266 170H288V174H266ZM354 184H376V188H354ZM442 176H464V180H442ZM531 187H553V191H531ZM619 185H641V189H619ZM707 187H729V191H707ZM796 187H818V191H796ZM884 192H906V196H884ZM972 197H994V201H972ZM1061 186H1083V190H1061ZM177 135H199V139H177ZM266 135H288V139H266ZM354 135H376V139H354ZM442 135H464V139H442ZM531 135H553V139H531ZM619 135H641V139H619ZM707 144H729V148H707ZM796 144H818V148H796ZM884 154H906V158H884ZM972 154H994V158H972ZM1061 144H1083V148H1061ZM177 222H199V226H177ZM266 212H288V216H266ZM354 251H376V255H354ZM442 251H464V255H442ZM531 232H553V236H531ZM619 232H641V236H619ZM707 251H729V255H707ZM796 251H818V255H796ZM884 241H906V245H884ZM972 280H994V284H972ZM1061 251H1083V255H1061Z" fill="#1f77b4" fill-opacity="0.042"/>
<path d="M177 166H199V168H177ZM266 171H288V173H266ZM354 185H376V187H354ZM442 177H464V179H442ZM531 188H553V190H531ZM619 186H641V188H619ZM707 188H729V190H707ZM796 188H818V190H796ZM884 193H906V195H884ZM972 198H994V200H972ZM1061 187H1083V189H1061ZM177 136H199V138H177ZM266 136H288V138H266ZM354 136H376V138H354ZM442 136H464V138H442ZM531 136H553V138H531ZM619 136H641V138H619ZM707 145H729V147H707ZM796 145H818V147H796ZM884 155H906V157H884ZM972 155H994V157H972ZM1061 145H1083V147H1061ZM177 223H199V225H177ZM266 213H288V215H266ZM354 252H376V254H354ZM442 252H464V254H442ZM531 233H553V235H531ZM619 233H641V235H619ZM707 252H729V254H707ZM796 252H818V254H796ZM884 242H906V244H884ZM972 281H994V283H972ZM1061 252H1083V254H1061Z" fill="#1f77b4"/>
<path d="M188.442 166.997 L276.753 171.999 L365.065 185.998 L453.377 178.003 L541.688 188.999 L630 187.134 L718.312 188.999 L806.623 188.999 L894.935 194.002 L983.247 198.995 L1071.558 187.999" stroke="#ff0000" stroke-width="2.0833" fill="none" stroke-linecap="square" stroke-linejoin="round"/>
<path d="M188 360V368M277 360V368M365 360V368M453 360V368M542 360V368M630 360V368M718 360V368M807 360V368M895 360V368M983 360V368M1072 360V368" stroke="#000000" stroke-width="1.7361" fill="none" stroke-linecap="butt"/>
<path d="M112 359H120V361H112ZM112 262H120V264H112ZM112 165H120V167H112ZM112 68H120V70H112Z" fill="#000000" fill-opacity="0.868"/>
<g stroke="#000000" stroke-width="1.7361" fill="none" stroke-linecap="square">
<path d="M120 360V20"/>
<path d="M1140 360V20"/>
</g>
<path d="M119.132 359H1140.868V361H119.132Z" fill="#000000" fill-opacity="0.868"/>
<path d="M119.132 19H1140.868V21H119.132Z" fill="#000000" fill-opacity="0.868"/>
<path d="M899.5 89.5L1119.5 89.5Q1125.5 89.5 1125.5 83.5L1125.5 41.5Q1125.5 35.5 1119.5 35.5L899.5 35.5Q893.5 35.5 893.5 41.5L893.5 83.5Q893.5 89.5 899.5 89.5Z" fill="#ffffff" stroke="#cccccc" stroke-width="1.3889" stroke-linejoin="miter" opacity="0.8"/>
<path d="M903.958 58H967.042V62H903.958Z" fill="#ff0000" fill-opacity="0.042"/>
<path d="M903.958 59H967.042V61H903.958Z" fill="#ff0000"/>
<g fill="#000000" stroke="none" font-family="'Liberation Sans', 'Noto Sans CJK JP', sans-serif">
<text x="189.4" y="392" font-size="25" text-anchor="middle">〜10</text>
<text x="277.4" y="392" font-size="25" text-anchor="middle">〜20</text>
<text x="365.5" y="392" font-size="25" text-anchor="middle">〜30</text>
<text x="454.4" y="392" font-size="25" text-anchor="middle">〜40</text>
<text x="542.4" y="392" font-size="25" text-anchor="middle">〜50</text>
<text x="630.4" y="392" font-size="25" text-anchor="middle">〜60</text>
<text x="719.4" y="392" font-size="25" text-anchor="middle">〜70</text>
<text x="807.4" y="392" font-size="25" text-anchor="middle">〜80</text>
<text x="895.4" y="392" font-size="25" text-anchor="middle">〜90</text>
<text x="984.4" y="392" font-size="25" text-anchor="middle">〜100</text>
<text x="1071.7" y="392" font-size="25" text-anchor="middle">100〜</text>
<text x="106" y="370" font-size="23.6" text-anchor="end">130</text>
<text x="106" y="272" font-size="23.6" text-anchor="end">140</text>
<text x="106" y="175" font-size="23.6" text-anchor="end">150</text>
<text x="106" y="78" font-size="23.6" text-anchor="end">160</text>
<text x="991" y="70.5" font-size="30.6">球速平均</text>
</g>
</svg>
</body>
</html>
